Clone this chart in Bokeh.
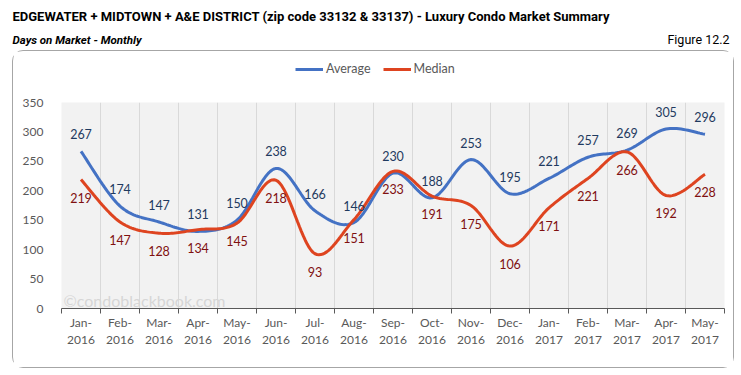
from bokeh.plotting import figure
from bokeh.layouts import column
from bokeh.models import (Range1d, FixedTicker, Legend, LegendItem, ColumnDataSource)
from bokeh.core.properties import value
from bokeh.embed import file_html
from bokeh.resources import INLINE

# ---------------- data ----------------
months = ["Jan-\n2016", "Feb-\n2016", "Mar-\n2016", "Apr-\n2016", "May-\n2016", "Jun-\n2016",
          "Jul-\n2016", "Aug-\n2016", "Sep-\n2016", "Oct-\n2016", "Nov-\n2016", "Dec-\n2016",
          "Jan-\n2017", "Feb-\n2017", "Mar-\n2017", "Apr-\n2017", "May-\n2017"]
average = [267, 174, 147, 131, 150, 238, 166, 146, 230, 188, 253, 195, 221, 257, 269, 305, 296]
median = [219, 147, 128, 134, 145, 218, 93, 151, 233, 191, 175, 106, 171, 221, 266, 192, 228]
y_ticks = [0, 50, 100, 150, 200, 250, 300, 350]

title_text = "EDGEWATER + MIDTOWN + A&E DISTRICT (zip code 33132 & 33137) - Luxury Condo Market Summary"
subtitle_text = "Days on Market - Monthly"
figure_text = "Figure 12.2"

BLUE = "#4472C4"
RED = "#DE4420"
BLUE_LBL = "#1F3A5F"
RED_LBL = "#7F1010"
GREY_TXT = "#595959"
LBL_FONT = "Lato"
HEAD_FONT = "Roboto"


def smooth(xs, ys, steps=20):
    """Catmull-Rom smoothing (like Excel's smoothed line)."""
    n = len(xs)
    px = [xs[0]] + list(xs) + [xs[-1]]
    py = [ys[0]] + list(ys) + [ys[-1]]
    ox, oy = [], []
    for i in range(1, n):
        p0x, p1x, p2x, p3x = px[i - 1], px[i], px[i + 1], px[i + 2]
        p0y, p1y, p2y, p3y = py[i - 1], py[i], py[i + 1], py[i + 2]
        c1x, c1y = p1x + (p2x - p0x) / 6, p1y + (p2y - p0y) / 6
        c2x, c2y = p2x - (p3x - p1x) / 6, p2y - (p3y - p1y) / 6
        for s in range(steps):
            t = s / steps
            a, b, c, d = (1 - t) ** 3, 3 * (1 - t) ** 2 * t, 3 * (1 - t) * t ** 2, t ** 3
            ox.append(a * p1x + b * c1x + c * c2x + d * p2x)
            oy.append(a * p1y + b * c1y + c * c2y + d * p2y)
    ox.append(xs[-1])
    oy.append(ys[-1])
    return ox, oy


xs = list(range(len(months)))

# ---------------- header ----------------
head = figure(width=741, height=50, x_range=Range1d(0, 741), y_range=Range1d(50, 0),
              toolbar_location=None, output_backend="svg", min_border=0)
head.axis.visible = False
head.grid.visible = False
head.outline_line_color = None
head.text(x=[12], y=[16], text=[title_text], text_font=value(HEAD_FONT),
          text_font_size="13px", text_font_style="bold", text_color="#000000",
          text_baseline="middle", text_align="left")
head.text(x=[12], y=[39], text=[subtitle_text], text_font=value(HEAD_FONT),
          text_font_size="11.5px", text_font_style="bold italic", text_color="#000000",
          text_baseline="middle", text_align="left")
head.text(x=[729], y=[39], text=[figure_text], text_font=value(HEAD_FONT),
          text_font_size="12.5px", text_color="#000000",
          text_baseline="middle", text_align="right")

# ---------------- legend strip (inside the rounded box) ----------------
leg = figure(width=720, height=35, x_range=Range1d(0, 1), y_range=Range1d(0, 1),
             toolbar_location=None, output_backend="svg", min_border=0)
leg.axis.visible = False
leg.grid.visible = False
leg.outline_line_color = None
# off-screen stand-in renderers that only carry the legend styles
l_avg = leg.line(x=[-5, -4], y=[-5, -5], line_color=BLUE, line_width=3)
l_med = leg.line(x=[-5, -4], y=[-5, -5], line_color=RED, line_width=3)
legend = Legend(items=[LegendItem(label="Average", renderers=[l_avg]),
                       LegendItem(label="Median", renderers=[l_med])],
                orientation="horizontal", location=(234, 10),
                padding=0, margin=0, spacing=12, glyph_width=28, glyph_height=14,
                label_standoff=3, border_line_color=None, background_fill_alpha=0,
                label_text_font=LBL_FONT, label_text_font_size="12.5px",
                label_text_color=GREY_TXT)
leg.add_layout(legend, "center")

# ---------------- main chart ----------------
p = figure(width=720, height=281, x_range=Range1d(-0.5, len(months) - 0.5),
           y_range=Range1d(0, 350), toolbar_location=None, output_backend="svg",
           min_border_left=48, min_border_right=9, min_border_top=16, min_border_bottom=59,
           background_fill_color="#F2F2F2", border_fill_color="white")
p.outline_line_color = None

boundaries = [i + 0.5 for i in range(-1, len(months))]
p.xaxis.ticker = FixedTicker(ticks=xs, minor_ticks=boundaries)
p.xaxis.major_label_overrides = {i: m for i, m in enumerate(months)}
p.xaxis.major_tick_line_color = None
p.xaxis.major_tick_in = 0
p.xaxis.major_tick_out = 0
p.xaxis.minor_tick_in = 0
p.xaxis.minor_tick_out = 5
p.xaxis.minor_tick_line_color = "#595959"
p.xaxis.axis_line_color = "#595959"
p.xaxis.major_label_standoff = 1
p.xaxis.major_label_text_font = LBL_FONT
p.xaxis.major_label_text_font_size = "12px"
p.xaxis.major_label_text_color = GREY_TXT
p.xaxis.major_label_text_line_height = 1.15

p.yaxis.ticker = FixedTicker(ticks=y_ticks)
p.yaxis.axis_line_color = None
p.yaxis.major_tick_line_color = None
p.yaxis.minor_tick_line_color = None
p.yaxis.major_label_standoff = 12
p.yaxis.major_label_text_font = LBL_FONT
p.yaxis.major_label_text_font_size = "12px"
p.yaxis.major_label_text_color = GREY_TXT

p.ygrid.grid_line_color = None
p.xgrid.ticker = FixedTicker(ticks=boundaries)
p.xgrid.grid_line_color = "#D9D9D9"
p.xgrid.grid_line_width = 1

# watermark
p.text(x=[-0.5], y=[0], text=["\u00a9condoblackbook.com"], text_font=value(LBL_FONT),
       text_font_size="16px", text_color="#D6D6D6", text_baseline="bottom",
       text_align="left", x_offset=2, y_offset=1)

ax, ay = smooth(xs, average)
mx, my = smooth(xs, median)
p.line(ax, ay, line_color=BLUE, line_width=3)
p.line(mx, my, line_color=RED, line_width=3)

src = ColumnDataSource(dict(x=xs, avg=average, med=median,
                            avg_t=[str(v) for v in average], med_t=[str(v) for v in median]))
p.text(x="x", y="avg", text="avg_t", source=src, text_font=value(LBL_FONT),
       text_font_size="12.5px", text_color=BLUE_LBL, text_align="center",
       text_baseline="middle", y_offset=-17)
p.text(x="x", y="med", text="med_t", source=src, text_font=value(LBL_FONT),
       text_font_size="12.5px", text_color=RED_LBL, text_align="center",
       text_baseline="middle", y_offset=18)

box = column(leg, p, spacing=0, margin=(0, 0, 0, 12),
             styles={"border": "1px solid #A6A6A6", "border-radius": "11px"})

layout = column(head, box, spacing=0)
open("out.html", "w").write(file_html(layout, INLINE))
